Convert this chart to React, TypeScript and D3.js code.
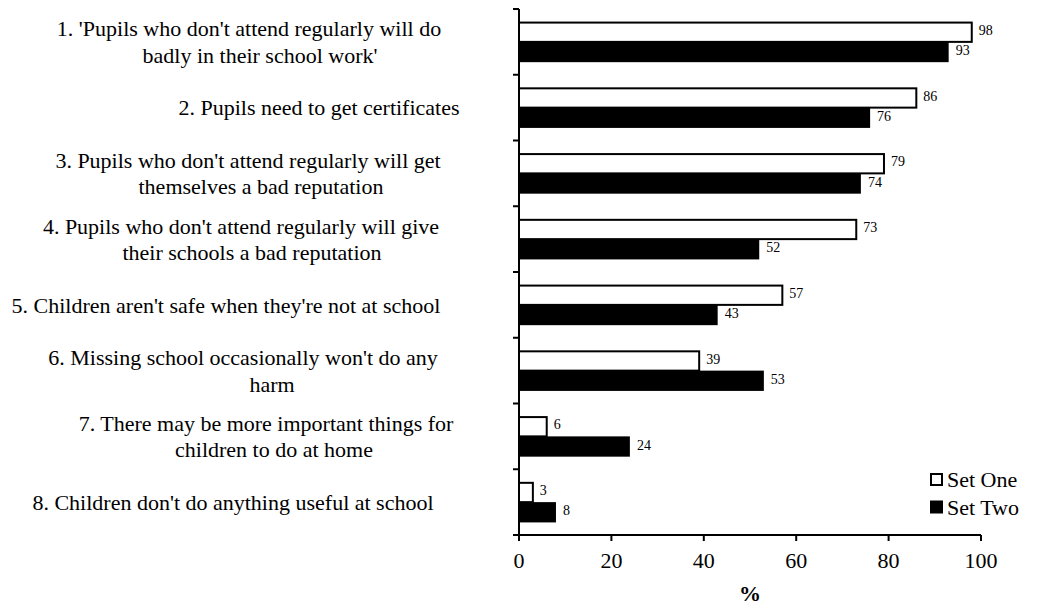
import React from 'react';
import * as d3 from 'd3';

const categories = [
    "1. 'Pupils who don't attend regularly will do|badly in their school work'",
    '2. Pupils need to get certificates',
    "3. Pupils who don't attend regularly will get|themselves a bad reputation",
    "4. Pupils who don't attend regularly will give|their schools a bad reputation",
    "5. Children aren't safe when they're not at school",
    "6. Missing school occasionally won't do any|harm",
    '7. There may be more important things for|children to do at home',
    "8. Children don't do anything useful at school",
];
const setOne = [98, 86, 79, 73, 57, 39, 6, 3];
const setTwo = [93, 76, 74, 52, 43, 53, 24, 8];
const seriesNames = ['Set One', 'Set Two'];
const xTicks = [0, 20, 40, 60, 80, 100];

// centre x of each label line, as the labels sit in the original
const LABEL_CX = [[249, 260], [319], [248, 261], [241, 252], [226], [243, 272], [266, 274], [233]];

const W = 1046;
const H = 608;
const M = { left: 519, right: 981, top: 9, bottom: 535 };
const FONT = "'Liberation Serif', 'Times New Roman', serif";
const FS = 22;

const App = () => {
    const x = d3.scaleLinear([0, 100], [M.left, M.right]);
    const y = d3.scaleBand(categories, [M.top, M.bottom]).padding(0);
    const inner = d3
        .scaleBand(seriesNames, [0, y.step()])
        .paddingInner(0)
        .paddingOuter(0.62);
    const series = [setOne, setTwo];
    const bounds = [...categories.map(c => y(c) as number), M.bottom];

    return (
        <svg
            width={W}
            height={H}
            style={{ position: 'absolute', left: 0, top: 0, background: '#fff' }}
            fontFamily={FONT}
        >
            {/* category labels */}
            {categories.map((c, i) => {
                const lines = c.split('|');
                const cy = (y(c) as number) + y.bandwidth() / 2;
                const lh = 26.5;
                return lines.map((ln, j) => (
                    <text
                        key={`${i}-${j}`}
                        x={LABEL_CX[i][j]}
                        y={cy + (j - (lines.length - 1) / 2) * lh}
                        dy='0.35em'
                        textAnchor='middle'
                        fontSize={FS}
                        fill='#000'
                    >
                        {ln}
                    </text>
                ));
            })}

            {/* bars */}
            {series.map((vals, s) =>
                vals.map((v, i) => {
                    const by = (y(categories[i]) as number) + (inner(seriesNames[s]) as number);
                    const bh = inner.bandwidth();
                    return (
                        <g key={`b${s}-${i}`}>
                            {s === 0 ? (
                                <rect
                                    x={x(0)}
                                    y={by + 1}
                                    width={x(v) - x(0)}
                                    height={bh - 1}
                                    fill='#fff'
                                    stroke='#000'
                                    strokeWidth={2}
                                />
                            ) : (
                                <rect x={x(0)} y={by} width={x(v) - x(0)} height={bh} fill='#000' />
                            )}
                            <text
                                x={x(v) + 7}
                                y={by + bh / 2}
                                dy='0.22em'
                                fontSize={14}
                                fill='#000'
                            >
                                {v}
                            </text>
                        </g>
                    );
                })
            )}

            {/* y axis */}
            <line x1={M.left} x2={M.left} y1={M.top} y2={M.bottom} stroke='#000' strokeWidth={2} />
            {bounds.map((b, i) => (
                <line key={`yt${i}`} x1={M.left - 6} x2={M.left} y1={b} y2={b} stroke='#000' strokeWidth={2} />
            ))}

            {/* x axis */}
            <line x1={M.left - 6} x2={M.right} y1={M.bottom} y2={M.bottom} stroke='#000' strokeWidth={2} />
            {xTicks.map(t => (
                <g key={`xt${t}`}>
                    <line x1={x(t)} x2={x(t)} y1={M.bottom} y2={M.bottom + 6} stroke='#000' strokeWidth={2} />
                    <text x={x(t)} y={560} dy='0.35em' textAnchor='middle' fontSize={FS} fill='#000'>
                        {t}
                    </text>
                </g>
            ))}
            <text
                x={(M.left + M.right) / 2}
                y={593}
                dy='0.35em'
                textAnchor='middle'
                fontSize={FS}
                fontWeight='bold'
                fill='#000'
            >
                %
            </text>

            {/* legend */}
            {seriesNames.map((n, i) => (
                <g key={n} transform={`translate(930, ${473 + i * 27.5})`}>
                    <rect
                        x={1}
                        y={1}
                        width={11}
                        height={11}
                        fill={i === 0 ? '#fff' : '#000'}
                        stroke='#000'
                        strokeWidth={2}
                    />
                    <text x={17} y={6.5} dy='0.35em' fontSize={FS} fill='#000'>
                        {n}
                    </text>
                </g>
            ))}
        </svg>
    );
};

export default App;
